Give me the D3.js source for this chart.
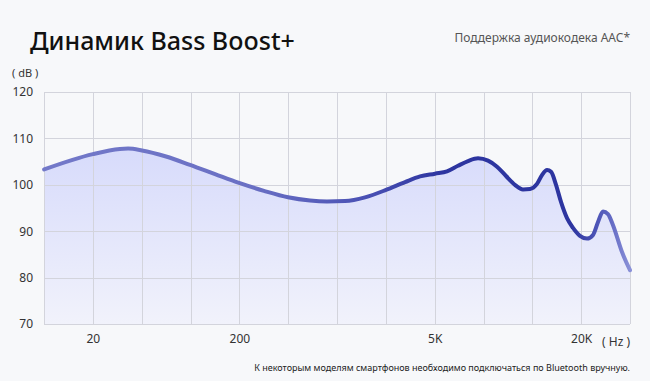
<!DOCTYPE html>
<html>
<head>
<meta charset="utf-8">
<script src="https://cdn.jsdelivr.net/npm/d3@7"></script>
<style>
html,body{margin:0;padding:0;background:#f7f8fa;}
svg{display:block;font-family:"Noto Sans","Open Sans",sans-serif;}
</style>
</head>
<body>
<svg id="chart" width="650" height="381"></svg>
<script>
// Frequency (Hz) and level (dB)
const freqs = [9.3, 20, 30.6, 34.8, 43.3, 63.2, 92.1, 136.5, 199, 300, 446, 641, 848, 1141, 1586, 2243, 3070, 3930, 5016, 5620, 6235, 6856, 7535, 8284, 9020, 9824, 10690, 11535, 12325, 13170, 13805, 14480, 15040, 15765, 16525, 17495, 18515, 19775, 21140, 22380, 23460, 24600, 25780, 27040, 29440, 31748];
const levels = [103.3, 106.6, 107.7, 107.8, 107.4, 106.1, 104.3, 102.3, 100.4, 98.7, 97.3, 96.6, 96.4, 96.5, 97.3, 98.9, 100.6, 101.8, 102.4, 102.9, 104.1, 105.1, 105.7, 105.2, 103.9, 101.9, 100.0, 99.0, 99.1, 100.2, 102.1, 103.2, 102.8, 100.0, 96.3, 92.8, 90.7, 89.0, 88.4, 89.2, 92.0, 94.25, 93.7, 91.3, 85.5, 81.6];
const yTicks = [70, 80, 90, 100, 110, 120];
const xTickValues = [20, 200, 5000, 20000];
const xTickLabels = ["20", "200", "5K", "20K"];
const axisFreqs = [9.28, 20, 200, 5000, 20000, 31748];
const gridColumns = 12;

const title = "Динамик Bass Boost+";
const subtitle = "Поддержка аудиокодека AAC*";
const footnote = "К некоторым моделям смартфонов необходимо подключаться по Bluetooth вручную.";

const mLeft = 44, mRight = 630, mTop = 92, mBottom = 324;
const svg = d3.select("#chart");

const colScale = d3.scaleLinear().domain([0, gridColumns]).range([mLeft, mRight]);
const x = d3.scaleLog().domain(axisFreqs).range([0, 1, 4, 8, 11, 12].map(c => colScale(c)));
const y = d3.scaleLinear().domain([70, 120]).range([mBottom, mTop]);

const data = freqs.map((f, i) => ({f, v: levels[i]}));

const defs = svg.append("defs");
const fillG = defs.append("linearGradient").attr("id", "fillG")
  .attr("gradientUnits", "userSpaceOnUse").attr("x1", 0).attr("x2", 0).attr("y1", mTop + 50).attr("y2", mBottom);
fillG.append("stop").attr("offset", 0).attr("stop-color", "#d6dafb");
fillG.append("stop").attr("offset", 1).attr("stop-color", "#f1f2fb");

const lineG = defs.append("linearGradient").attr("id", "lineG")
  .attr("gradientUnits", "userSpaceOnUse").attr("x1", mLeft).attr("x2", mRight).attr("y1", 0).attr("y2", 0);
[[0, "#7379c9"], [0.35, "#6a70c4"], [0.55, "#4a51b4"], [0.68, "#2d35a0"], [0.9, "#2d35a0"], [0.96, "#5a61bf"], [1, "#8a91d8"]]
  .forEach(([o, c]) => lineG.append("stop").attr("offset", o).attr("stop-color", c));

// Area
const area = d3.area().x(d => x(d.f)).y0(y(70)).y1(d => y(d.v)).curve(d3.curveMonotoneX);
svg.append("path").datum(data).attr("d", area).attr("fill", "url(#fillG)");

// Grid
const grid = svg.append("g").attr("stroke", "#d3d4dc").attr("stroke-width", 1).attr("fill", "none");
d3.range(0, gridColumns + 1).forEach(c => {
  grid.append("line").attr("x1", Math.round(colScale(c)) + 0.5).attr("x2", Math.round(colScale(c)) + 0.5)
    .attr("y1", mTop).attr("y2", mBottom);
});
yTicks.forEach(t => {
  grid.append("line").attr("x1", mLeft).attr("x2", mRight)
    .attr("y1", Math.round(y(t)) + 0.5).attr("y2", Math.round(y(t)) + 0.5);
});

// Line
const line = d3.line().x(d => x(d.f)).y(d => y(d.v)).curve(d3.curveMonotoneX);
svg.append("path").datum(data).attr("d", line).attr("fill", "none")
  .attr("stroke", "url(#lineG)").attr("stroke-width", 4).attr("stroke-linecap", "round").attr("stroke-linejoin", "round");

// Y axis labels
const yAxis = d3.axisLeft(y).tickValues(yTicks).tickSize(0).tickPadding(0);
const yg = svg.append("g").attr("transform", `translate(33,0)`).call(yAxis);
yg.select(".domain").remove();
yg.selectAll("text").attr("font-size", 12).attr("fill", "#333").attr("font-family", "Noto Sans, sans-serif");

// X axis labels
const xAxis = d3.axisBottom(x).tickValues(xTickValues).tickFormat((d, i) => xTickLabels[i]).tickSize(0).tickPadding(0);
const xg = svg.append("g").attr("transform", `translate(0,334)`).call(xAxis);
xg.select(".domain").remove();
xg.selectAll("text").attr("font-size", 12).attr("fill", "#333").attr("font-family", "Noto Sans, sans-serif");

// Unit labels
svg.append("text").attr("x", 12).attr("y", 77).attr("font-size", 11).attr("fill", "#333").text("( dB )");
svg.append("text").attr("x", 630).attr("y", 346).attr("text-anchor", "end").attr("font-size", 12).attr("fill", "#333").text("( Hz )");

// Titles
svg.append("text").attr("x", 30).attr("y", 50).attr("font-size", 25).attr("font-weight", 500).attr("fill", "#111").text(title);
svg.append("text").attr("x", 630).attr("y", 42).attr("text-anchor", "end").attr("font-size", 12).attr("fill", "#555").text(subtitle);
svg.append("text").attr("x", 630).attr("y", 371).attr("text-anchor", "end").attr("font-size", 9).attr("fill", "#222").text(footnote);
</script>
</body>
</html>
